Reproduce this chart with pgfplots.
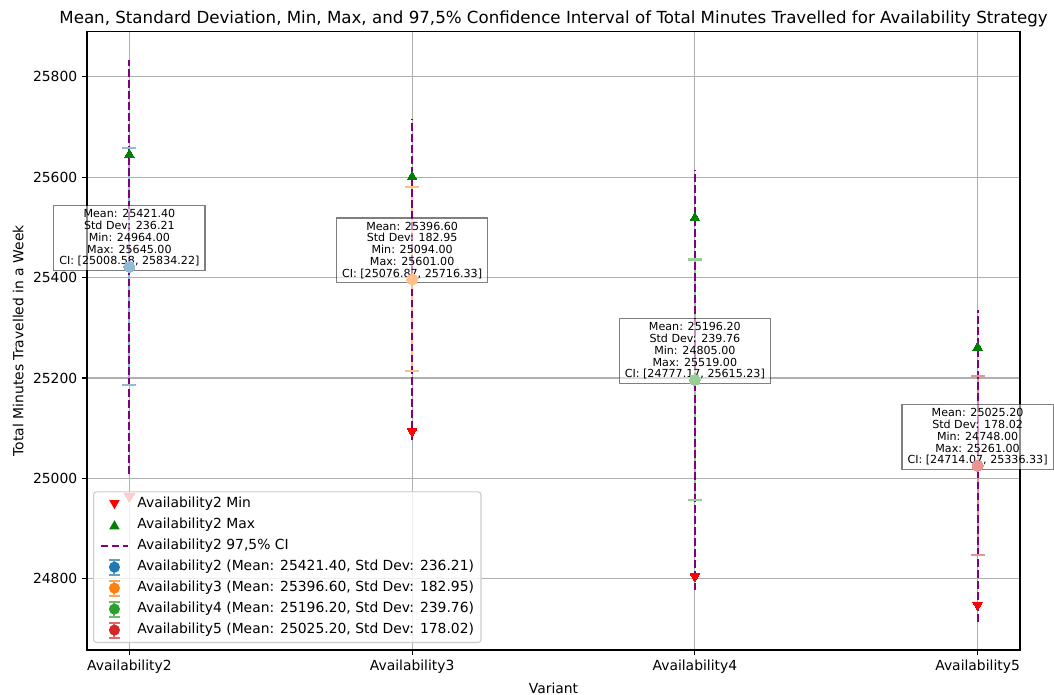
\documentclass[border=0pt]{standalone}
\usepackage{fontspec}
\setmainfont{DejaVu Sans}
\usepackage{pgfplots}
\pgfplotsset{compat=1.18}
\definecolor{tabblue}{HTML}{1F77B4}
\definecolor{taborange}{HTML}{FF7F0E}
\definecolor{tabgreen}{HTML}{2CA02C}
\definecolor{tabred}{HTML}{D62728}
\definecolor{mplpurple}{HTML}{800080}
\definecolor{mplgreen}{HTML}{008000}
\definecolor{mplred}{HTML}{FF0000}
\definecolor{gridgray}{HTML}{B0B0B0}
\definecolor{legframe}{HTML}{CCCCCC}
\tikzset{
  annot/.style={anchor=south, yshift=-2.9bp, draw=black, draw opacity=0.5, fill=white, fill opacity=0.55, text opacity=1,
    align=center, font=\fontsize{8bp}{8.5bp}\selectfont, inner xsep=4bp, inner ysep=2.8bp, line width=0.8bp},
  legimg/.style={sharp corners, fill opacity=1, draw opacity=1},
}
\pgfplotsset{
  sdbar/.style={forget plot, color=#1!50!white, line width=1.5bp, mark=-, mark size=5bp,
    mark options={line width=1.5bp, draw=#1!50!white}},
  meanpt/.style={forget plot, only marks, mark=*, mark size=4bp, color=#1!50!white,
    mark options={draw=#1!50!white, fill=#1!50!white, line width=0pt}},
  ebarleg/.style={legend image code/.code={
    \path[use as bounding box, draw=none, fill=none] (0bp,-3bp) rectangle (20bp,3bp);
    \draw[legimg, line width=1.5bp, #1!70!white, fill=none] (10bp,-5.4bp) -- (10bp,5.4bp) (6bp,-5.4bp) -- (14bp,-5.4bp) (6bp,5.4bp) -- (14bp,5.4bp);
    \fill[legimg, #1, draw=none] (10bp,0bp) circle (4bp);}},
}
\begin{document}
\begin{tikzpicture}
\begin{axis}[
  scale only axis, width=671.76bp, height=445.32bp,
  xmin=-0.15, xmax=3.15, ymin=24658.06, ymax=25890.23,
  xtick={0,1,2,3}, xticklabels={Availability2,Availability3,Availability4,Availability5},
  ytick={24800,25000,25200,25400,25600,25800},
  scaled y ticks=false,
  /pgf/number format/1000 sep={},
  /pgf/number format/assume math mode=true,
  grid=major, grid style={gridgray, line width=0.8bp},
  axis line style={line width=0.8bp},
  tick style={black, line width=0.8bp}, tick align=outside, major tick length=3.5bp,
  tick pos=left,
  ticklabel style={font=\fontsize{10bp}{12bp}\selectfont},
  label style={font=\fontsize{10bp}{12bp}\selectfont},
  every axis title/.style={at={(0.5,1)}, anchor=base, yshift=6bp, font=\fontsize{12bp}{14bp}\selectfont},
  title={Mean, Standard Deviation, Min, Max, and 97,5\% Confidence Interval of Total Minutes Travelled for Availability Strategy},
  xlabel={Variant}, ylabel={Total Minutes Travelled in a Week},
  clip=false,
  legend cell align=left,
  legend style={at={(0.0065,0.0113)}, anchor=south west, draw=legframe, line width=0.8bp,
    rounded corners=2bp, fill=white, fill opacity=0.8, text opacity=1, draw opacity=1,
    font=\fontsize{10bp}{12bp}\selectfont, inner xsep=5bp, inner ysep=4bp,
    nodes={inner sep=0pt, text height=7.4bp, text depth=2.4bp},
    row sep=5.3bp, column sep=6.5bp, cells={anchor=west}},
]
% mean +- std (low, high)
\addplot[sdbar=tabblue] coordinates {(0,25185.19) (0,25657.61)};
\addplot[meanpt=tabblue] coordinates {(0,25421.40)};
\addplot[sdbar=taborange] coordinates {(1,25213.65) (1,25579.55)};
\addplot[meanpt=taborange] coordinates {(1,25396.60)};
\addplot[sdbar=tabgreen] coordinates {(2,24956.44) (2,25435.96)};
\addplot[meanpt=tabgreen] coordinates {(2,25196.20)};
\addplot[sdbar=tabred] coordinates {(3,24847.18) (3,25203.22)};
\addplot[meanpt=tabred] coordinates {(3,25025.20)};
% min and max
\addplot[forget plot, only marks, color=mplred, mark=triangle*, mark size=4bp, mark options={rotate=180, draw=mplred, fill=mplred, line width=0pt}]
  coordinates {(0,24964) (1,25094) (2,24805) (3,24748)};
\addplot[forget plot, only marks, color=mplgreen, mark=triangle*, mark size=4bp, mark options={draw=mplgreen, fill=mplgreen, line width=0pt}]
  coordinates {(0,25645) (1,25601) (2,25519) (3,25261)};
% 97.5% CI
\addplot[forget plot, mplpurple, line width=1.5bp, dash pattern=on 5.55bp off 2.4bp] coordinates {(0,25008.58) (0,25834.22)};
\addplot[forget plot, mplpurple, line width=1.5bp, dash pattern=on 5.55bp off 2.4bp] coordinates {(1,25076.87) (1,25716.33)};
\addplot[forget plot, mplpurple, line width=1.5bp, dash pattern=on 5.55bp off 2.4bp] coordinates {(2,24777.17) (2,25615.23)};
\addplot[forget plot, mplpurple, line width=1.5bp, dash pattern=on 5.55bp off 2.4bp] coordinates {(3,24714.07) (3,25336.33)};
% legend
\addlegendimage{legend image code/.code={\path[use as bounding box, draw=none, fill=none] (0bp,-3bp) rectangle (20bp,3bp); \fill[legimg, mplred, draw=none] (10bp,-3.6bp) -- (6.2bp,3.0bp) -- (13.8bp,3.0bp) -- cycle;}}
\addlegendentry{Availability2 Min}
\addlegendimage{legend image code/.code={\path[use as bounding box, draw=none, fill=none] (0bp,-3bp) rectangle (20bp,3bp); \fill[legimg, mplgreen, draw=none] (10bp,3.6bp) -- (6.2bp,-3.0bp) -- (13.8bp,-3.0bp) -- cycle;}}
\addlegendentry{Availability2 Max}
\addlegendimage{legend image code/.code={\path[use as bounding box, draw=none, fill=none] (0bp,-3bp) rectangle (20bp,3bp); \draw[legimg, mplpurple, line width=1.5bp, dash pattern=on 5.55bp off 2.4bp] (0bp,0bp) -- (20bp,0bp);}}
\addlegendentry{Availability2 97,5\% CI}
\addlegendimage{ebarleg=tabblue}
\addlegendentry{Availability2 (Mean: 25421.40, Std Dev: 236.21)}
\addlegendimage{ebarleg=taborange}
\addlegendentry{Availability3 (Mean: 25396.60, Std Dev: 182.95)}
\addlegendimage{ebarleg=tabgreen}
\addlegendentry{Availability4 (Mean: 25196.20, Std Dev: 239.76)}
\addlegendimage{ebarleg=tabred}
\addlegendentry{Availability5 (Mean: 25025.20, Std Dev: 178.02)}
% annotations
\node[annot] at (axis cs:0,25421.40) {Mean: 25421.40\\Std Dev: 236.21\\Min: 24964.00\\Max: 25645.00\\CI: [25008.58, 25834.22]};
\node[annot] at (axis cs:1,25396.60) {Mean: 25396.60\\Std Dev: 182.95\\Min: 25094.00\\Max: 25601.00\\CI: [25076.87, 25716.33]};
\node[annot] at (axis cs:2,25196.20) {Mean: 25196.20\\Std Dev: 239.76\\Min: 24805.00\\Max: 25519.00\\CI: [24777.17, 25615.23]};
\node[annot] at (axis cs:3,25025.20) {Mean: 25025.20\\Std Dev: 178.02\\Min: 24748.00\\Max: 25261.00\\CI: [24714.07, 25336.33]};
\end{axis}
\pgfresetboundingbox
\useasboundingbox (-62.64bp,-32.4bp) rectangle (696.24bp,468bp);
\end{tikzpicture}
\end{document}
